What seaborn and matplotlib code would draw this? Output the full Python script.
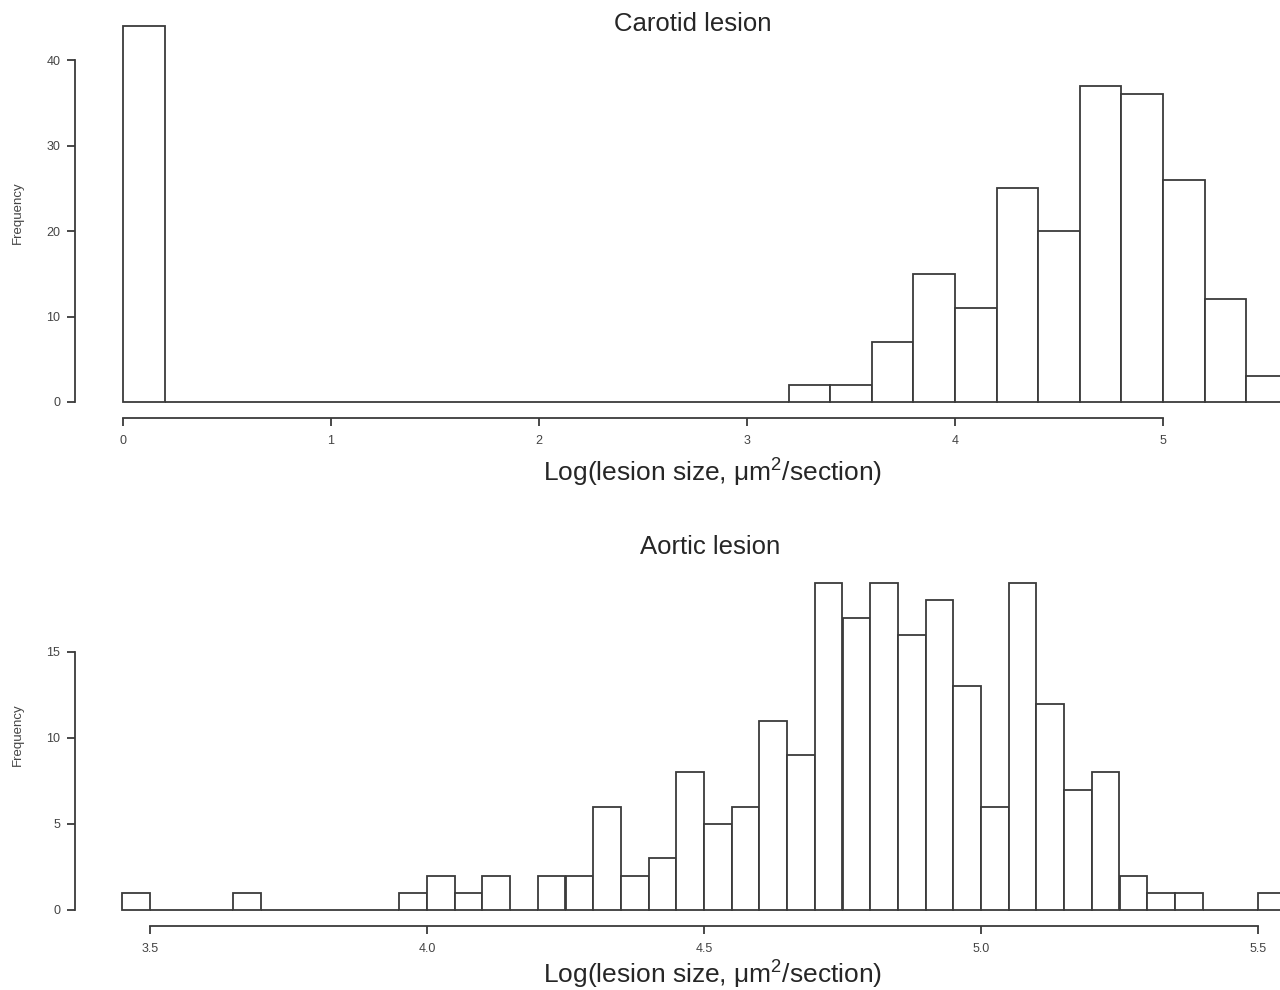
import numpy as np
import pandas as pd
import matplotlib
matplotlib.use('Agg')
import matplotlib.pyplot as plt
import seaborn as sns

# carotid: bins of 0.2 from 0.0 to 5.6
carotid_edges = np.round(np.arange(0.0, 5.61, 0.2), 2)
carotid_counts = [44, 0, 0, 0, 0, 0, 0, 0, 0, 0, 0, 0, 0, 0, 0, 0,
                  2, 2, 7, 15, 11, 25, 20, 37, 36, 26, 12, 3]

# aortic: bins of 0.05 from 3.45 to 5.55
aortic_edges = np.round(np.arange(3.45, 5.551, 0.05), 2)
aortic_counts = [1, 0, 0, 0, 1, 0, 0, 0, 0, 0, 1, 2, 1, 2, 0, 2, 2, 6, 2, 3,
                 8, 5, 6, 11, 9, 19, 17, 19, 16, 18, 13, 6, 19, 12, 7, 8, 2,
                 1, 1, 0, 0, 1]

carotid_xticks = [0, 1, 2, 3, 4, 5]
carotid_yticks = [0, 10, 20, 30, 40]
aortic_xticks = [3.5, 4.0, 4.5, 5.0, 5.5]
aortic_xticklabels = ['3.5', '4.0', '4.5', '5.0', '5.5']
aortic_yticks = [0, 5, 10, 15]

titles = ['Carotid lesion', 'Aortic lesion']
xlabel = r'Log(lesion size, μm$^{2}$/section)'

sns.set_style('ticks')
plt.rcParams['font.family'] = ['Liberation Sans', 'DejaVu Sans']
plt.rcParams['mathtext.fontset'] = 'custom'
plt.rcParams['mathtext.rm'] = 'Liberation Sans'
plt.rcParams['mathtext.it'] = 'Liberation Sans'
plt.rcParams['mathtext.default'] = 'regular'

LINE = '#3a3a3a'
W, H = 1280, 990

fig = plt.figure(figsize=(12.8, 9.9), dpi=100)


def px_rect(left, top, right, bottom):
    return [left / W, 1 - bottom / H, (right - left) / W, (bottom - top) / H]


def r_hist(ax, edges, counts, xlim, ylim, xticks, yticks, xticklabels=None):
    edges = np.asarray(edges)
    df = pd.DataFrame({'x': (edges[:-1] + edges[1:]) / 2, 'n': counts})
    # bins as list, otherwise seaborn compares the array with "auto"
    sns.histplot(data=df, x='x', weights='n', bins=edges.tolist(), ax=ax,
                 color='white', edgecolor=LINE, linewidth=1.3, alpha=1)
    ax.set_xlim(*xlim)
    ax.set_ylim(*ylim)
    for s in ['top', 'right']:
        ax.spines[s].set_visible(False)
    for s in ['left', 'bottom']:
        ax.spines[s].set_color(LINE)
        ax.spines[s].set_linewidth(1.3)
    ax.spines['bottom'].set_bounds(xticks[0], xticks[-1])
    ax.spines['left'].set_bounds(yticks[0], yticks[-1])
    ax.set_xticks(xticks)
    if xticklabels is not None:
        ax.set_xticklabels(xticklabels)
    ax.set_yticks(yticks)
    ax.tick_params(axis='both', direction='out', length=5.5, width=1.3,
                   color=LINE, labelsize=9, labelcolor='#444444')
    ax.tick_params(axis='x', pad=7)
    ax.tick_params(axis='y', pad=5)
    ax.set_xlabel('')
    ax.set_ylabel('')
    ax.patch.set_alpha(0)


# top: carotid
ax1 = fig.add_axes(px_rect(75, 20, 1280, 418))
r_hist(ax1, carotid_edges, carotid_counts,
       xlim=((75 - 123) / 208, (1280 - 123) / 208),
       ylim=((402 - 418) / 8.55, (402 - 20) / 8.55),
       xticks=carotid_xticks, yticks=carotid_yticks)

# bottom: aortic
ax2 = fig.add_axes(px_rect(75, 560, 1280, 926))
r_hist(ax2, aortic_edges, aortic_counts,
       xlim=(3.5 + (75 - 150) / 554, 3.5 + (1280 - 150) / 554),
       ylim=((910 - 926) / 17.2, (910 - 560) / 17.2),
       xticks=aortic_xticks, yticks=aortic_yticks,
       xticklabels=aortic_xticklabels)

fig.text(693 / W, 1 - 24 / H, titles[0], ha='center', va='center', fontsize=18.5)
fig.text(710 / W, 1 - 547 / H, titles[1], ha='center', va='center', fontsize=18.5)
fig.text(713 / W, 1 - 473 / H, xlabel, ha='center', va='center', fontsize=19)
fig.text(713 / W, 1 - 975 / H, xlabel, ha='center', va='center', fontsize=19)
fig.text(18 / W, 1 - 213 / H, 'Frequency', rotation=90, ha='center',
         va='center', fontsize=9.5, color='#444444')
fig.text(18 / W, 1 - 735 / H, 'Frequency', rotation=90, ha='center',
         va='center', fontsize=9.5, color='#444444')

plt.savefig('out.png', dpi=100)
plt.close()
